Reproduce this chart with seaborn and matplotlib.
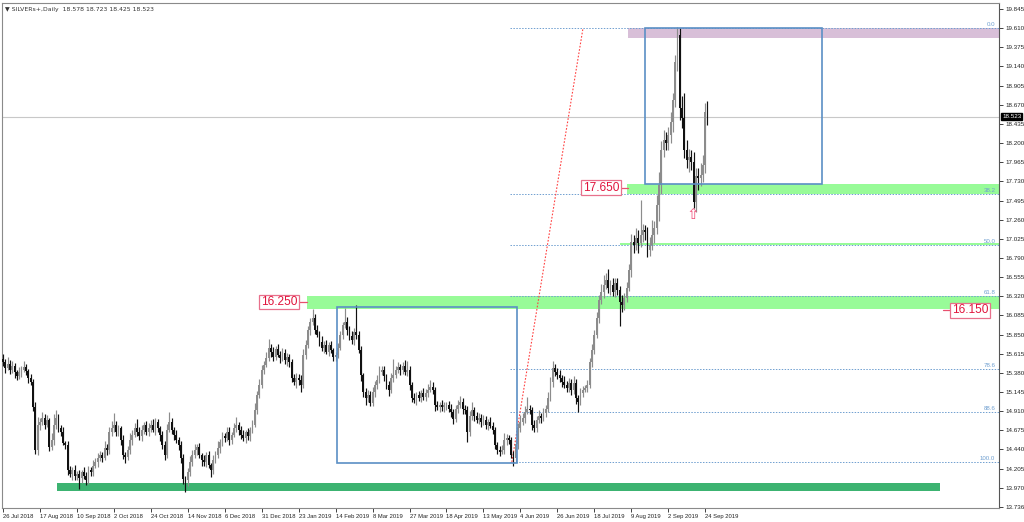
import numpy as np
import pandas as pd
import matplotlib
matplotlib.use('Agg')
import matplotlib.pyplot as plt
import matplotlib.transforms as mtransforms
from matplotlib.patches import Rectangle
import seaborn as sns

sns.set_theme(style='white')
plt.rcParams['font.family'] = ['Liberation Sans', 'DejaVu Sans']

# ---------------- data ----------------
symbol_title = 'SILVERs+,Daily  18.578 18.723 18.425 18.523'
first_open = 15.55

# daily closes, one row per 16 bars (one date label each)
closes = [
    15.51, 15.44, 15.49, 15.42, 15.46, 15.39, 15.34, 15.39, 15.42, 15.45, 15.40, 15.32, 15.27, 14.96, 14.43, 14.74,
    14.78, 14.83, 14.74, 14.80, 14.47, 14.56, 14.74, 14.83, 14.70, 14.66, 14.52, 14.50, 14.19, 14.14, 14.19, 14.12,
    14.14, 14.09, 14.16, 14.12, 14.07, 14.19, 14.16, 14.24, 14.29, 14.34, 14.37, 14.34, 14.46, 14.43, 14.66, 14.70,
    14.74, 14.66, 14.70, 14.56, 14.37, 14.35, 14.43, 14.56, 14.62, 14.70, 14.66, 14.60, 14.68, 14.74, 14.66, 14.70,
    14.74, 14.68, 14.78, 14.70, 14.62, 14.50, 14.37, 14.68, 14.78, 14.68, 14.62, 14.56, 14.50, 14.33, 14.08, 14.07,
    14.16, 14.29, 14.37, 14.43, 14.47, 14.37, 14.31, 14.29, 14.37, 14.25, 14.19, 14.31, 14.37, 14.46, 14.53, 14.60,
    14.58, 14.66, 14.56, 14.62, 14.70, 14.74, 14.68, 14.62, 14.58, 14.65, 14.60, 14.68, 14.74, 14.93, 15.11, 15.23,
    15.42, 15.48, 15.56, 15.69, 15.64, 15.58, 15.67, 15.60, 15.56, 15.63, 15.54, 15.58, 15.51, 15.32, 15.27, 15.32,
    15.29, 15.23, 15.60, 15.72, 15.91, 16.01, 16.05, 15.91, 15.85, 15.76, 15.69, 15.72, 15.64, 15.72, 15.66, 15.58,
    15.60, 15.69, 15.85, 15.97, 16.01, 15.91, 15.83, 15.78, 15.88, 15.85, 15.66, 15.35, 15.15, 15.07, 15.11, 15.01,
    15.15, 15.23, 15.29, 15.39, 15.42, 15.34, 15.23, 15.17, 15.32, 15.35, 15.42, 15.45, 15.42, 15.46, 15.39, 15.42,
    15.23, 15.07, 15.05, 15.11, 15.07, 15.13, 15.09, 15.13, 15.17, 15.21, 15.17, 14.98, 14.96, 14.99, 14.96, 14.98,
    14.98, 14.94, 14.90, 14.82, 14.94, 14.98, 15.02, 14.94, 14.92, 14.65, 14.85, 14.92, 14.85, 14.80, 14.83, 14.78,
    14.80, 14.74, 14.78, 14.73, 14.68, 14.50, 14.43, 14.41, 14.43, 14.56, 14.58, 14.56, 14.37, 14.34, 14.51, 14.70,
    14.78, 14.83, 14.90, 14.94, 14.92, 14.74, 14.70, 14.80, 14.85, 14.83, 14.89, 14.94, 15.07, 15.27, 15.44, 15.39,
    15.35, 15.32, 15.27, 15.23, 15.19, 15.26, 15.17, 15.26, 15.07, 15.02, 15.13, 15.17, 15.19, 15.23, 15.51, 15.66,
    15.85, 16.05, 16.27, 16.37, 16.46, 16.52, 16.42, 16.46, 16.37, 16.48, 16.40, 16.25, 16.21, 16.30, 16.42, 16.64,
    16.99, 16.95, 17.04, 16.97, 17.07, 17.13, 17.11, 16.89, 16.95, 17.07, 17.16, 17.44, 17.69, 18.12, 18.24, 18.20,
    18.30, 18.46, 18.73, 19.19, 19.53, 18.63, 18.51, 18.12, 17.99, 18.03, 17.97, 17.48, 17.80, 17.77, 17.81, 17.93,
    18.578, 18.523,
]

# wick lengths above / below the body, in hundredths
wick_up = [
    6, 4, 8, 5, 7, 4, 3, 6, 5, 8, 4, 3, 5, 4, 6, 10,
    5, 7, 4, 6, 3, 8, 13, 9, 5, 4, 6, 3, 4, 5, 3, 6,
    4, 5, 3, 6, 4, 5, 3, 7, 4, 6, 5, 4, 8, 5, 6, 9,
    15, 5, 4, 3, 6, 4, 5, 8, 6, 7, 12, 5, 6, 4, 5, 7,
    6, 8, 5, 4, 3, 5, 4, 7, 12, 5, 4, 6, 3, 4, 5, 3,
    5, 7, 6, 8, 4, 5, 3, 6, 4, 5, 3, 6, 5, 8, 4, 6,
    4, 6, 5, 3, 7, 10, 4, 5, 6, 3, 5, 4, 6, 8, 5, 7,
    6, 5, 8, 11, 5, 6, 4, 7, 5, 6, 4, 5, 3, 4, 5, 6,
    5, 6, 7, 6, 5, 4, 12, 5, 6, 4, 7, 5, 6, 4, 5, 3,
    4, 6, 5, 4, 17, 5, 4, 6, 5, 33, 4, 5, 3, 4, 6, 5,
    6, 5, 7, 8, 5, 4, 3, 5, 6, 20, 5, 6, 4, 5, 8, 10,
    5, 4, 6, 3, 5, 4, 6, 5, 7, 8, 6, 4, 5, 3, 6, 4,
    4, 5, 6, 4, 5, 7, 8, 5, 4, 5, 6, 10, 4, 5, 6, 4,
    6, 5, 4, 6, 5, 4, 3, 5, 6, 8, 5, 4, 3, 5, 6, 7,
    8, 6, 7, 15, 5, 4, 6, 5, 7, 4, 6, 5, 8, 6, 9, 5,
    5, 6, 4, 7, 5, 6, 4, 8, 5, 4, 6, 5, 4, 6, 5, 7,
    6, 8, 7, 10, 12, 8, 14, 6, 9, 7, 6, 5, 8, 6, 7, 8,
    10, 8, 12, 9, 43, 8, 7, 6, 10, 18, 8, 12, 15, 10, 12, 9,
    10, 12, 8, 9, 9, 8, 15, 30, 12, 10, 8, 12, 10, 9, 15, 12,
    12, 14,
]
wick_dn = [
    4, 6, 3, 5, 4, 7, 5, 4, 6, 3, 5, 6, 4, 5, 4, 6,
    6, 4, 5, 3, 5, 4, 6, 5, 4, 6, 3, 5, 6, 4, 7, 5,
    5, 13, 6, 4, 7, 5, 4, 5, 3, 6, 4, 5, 3, 6, 4, 5,
    4, 6, 5, 7, 5, 8, 4, 5, 6, 3, 5, 4, 6, 5, 4, 5,
    5, 3, 6, 4, 7, 5, 6, 4, 3, 5, 6, 4, 7, 5, 6, 15,
    8, 4, 5, 3, 6, 4, 7, 5, 6, 4, 9, 5, 3, 4, 6, 5,
    5, 4, 6, 5, 3, 4, 6, 5, 3, 6, 4, 5, 4, 3, 5, 4,
    4, 5, 3, 4, 6, 5, 4, 3, 6, 4, 5, 7, 6, 5, 4, 8,
    6, 8, 4, 5, 3, 6, 4, 5, 3, 5, 4, 6, 3, 5, 4, 6,
    5, 4, 3, 5, 4, 6, 5, 4, 6, 5, 4, 7, 6, 8, 5, 4,
    4, 6, 5, 3, 4, 6, 5, 7, 4, 5, 3, 4, 6, 5, 4, 5,
    6, 5, 4, 6, 3, 5, 4, 6, 5, 3, 5, 7, 4, 6, 5, 6,
    5, 4, 6, 7, 4, 5, 3, 6, 5, 12, 4, 5, 6, 4, 5, 6,
    4, 5, 6, 3, 5, 6, 4, 5, 3, 4, 6, 5, 4, 10, 5, 6,
    5, 4, 6, 3, 5, 6, 4, 5, 3, 6, 4, 5, 4, 3, 6, 5,
    4, 5, 6, 3, 5, 4, 6, 5, 7, 12, 4, 5, 3, 5, 4, 6,
    5, 4, 6, 5, 7, 5, 6, 8, 5, 6, 7, 30, 8, 6, 5, 4,
    8, 10, 6, 12, 5, 8, 10, 9, 7, 6, 10, 8, 20, 12, 9, 8,
    8, 10, 12, 9, 10, 15, 12, 10, 9, 14, 10, 8, 12, 15, 10, 9,
    10, 10,
]

date_labels = ['26 Jul 2018', '17 Aug 2018', '10 Sep 2018', '2 Oct 2018', '24 Oct 2018',
               '14 Nov 2018', '6 Dec 2018', '31 Dec 2018', '23 Jan 2019', '14 Feb 2019',
               '8 Mar 2019', '27 Mar 2019', '18 Apr 2019', '13 May 2019', '4 Jun 2019',
               '26 Jun 2019', '18 Jul 2019', '9 Aug 2019', '2 Sep 2019', '24 Sep 2019']
date_bars = [0, 16, 32, 48, 64, 80, 96, 112, 128, 144, 160, 176, 192, 208, 224,
             240, 256, 272, 288, 304]

price_ticks = [19.845, 19.610, 19.375, 19.140, 18.905, 18.670, 18.435, 18.200, 17.965,
               17.730, 17.495, 17.260, 17.025, 16.790, 16.555, 16.320, 16.085, 15.850,
               15.615, 15.380, 15.145, 14.910, 14.675, 14.440, 14.205, 13.970, 13.735]
price_tick_labels = ['19.845', '19.610', '19.375', '19.140', '18.905', '18.670', '18.435',
                     '18.200', '17.965', '17.730', '17.495', '17.260', '17.025', '16.790',
                     '16.555', '16.320', '16.085', '15.850', '15.615', '15.380', '15.145',
                     '14.910', '14.675', '14.440', '14.205', '13.970', '13.736']

last_price = 18.523
fib_levels = [19.610, 17.577, 16.950, 16.320, 15.426, 14.894, 14.287]
fib_labels = ['0.0', '38.2', '50.0', '61.8', '78.6', '88.6', '100.0']
fib_start = 219.5
fib_trend = ([220.3, 251.1], [14.287, 19.610])

# zones: (x0 bar, x1 bar, low price, high price)
support_zone = (23.4, 405.6, 13.931, 14.029)
green_zones = [(131.6, None, 16.164, 16.324), (270.0, None, 17.575, 17.700),
               (267.0, None, 16.945, 16.975)]
top_zone = (270.6, None, 19.490, 19.610)
boxes = [(144.6, 222.5, 14.275, 16.188), (277.9, 354.5, 17.700, 19.610)]

# price callouts: (text, centre bar, price, line start bar, line end bar)
callouts = [('16.250', 119.5, 16.250, 128.1, 131.6),
            ('17.650', 258.9, 17.650, 267.1, 270.6),
            ('16.150', 418.6, 16.150, 406.9, 410.4)]
arrow_pos = (298.7, 17.32)

# ---------------- build candles ----------------
df = pd.DataFrame({'close': closes})
df['open'] = df['close'].shift(1).fillna(first_open)
df['high'] = df[['open', 'close']].max(axis=1) + np.array(wick_up) / 100
df['low'] = df[['open', 'close']].min(axis=1) - np.array(wick_dn) / 100
df['up'] = df['close'] >= df['open']

XMIN, XMAX = -0.43, 431.2
YMIN, YMAX = 13.722, 19.919

fig = plt.figure(figsize=(10.24, 5.22), dpi=100)
fig.patch.set_facecolor('white')
ax = fig.add_axes([2 / 1024, 14 / 522, 997 / 1024, 505 / 522])
ax.set_xlim(XMIN, XMAX)
ax.set_ylim(YMIN, YMAX)

# zones behind candles
x0, x1, lo, hi = support_zone
ax.add_patch(Rectangle((x0, lo), x1 - x0, hi - lo, color='#3cb371', lw=0, zorder=1))
for x0, x1, lo, hi in green_zones:
    x1 = XMAX if x1 is None else x1
    ax.add_patch(Rectangle((x0, lo), x1 - x0, hi - lo, color='#98fb98', lw=0, zorder=1))
x0, x1, lo, hi = top_zone
ax.add_patch(Rectangle((x0, lo), XMAX - x0, hi - lo, color='#d8bfd8', lw=0, zorder=1))

# fibonacci levels
ax.hlines(fib_levels, fib_start, XMAX, colors='#6f9fd0', linestyles=(0, (1.5, 1.5)),
          lw=0.7, zorder=2)
for lvl, lab in zip(fib_levels, fib_labels):
    ax.text(429.6, lvl + 0.015, lab, fontsize=4.4, color='#6f9fd0', ha='right', va='bottom',
            zorder=3)
ax.plot(fib_trend[0], fib_trend[1], color='#ff4040', ls=(0, (1.5, 1.5)), lw=0.8, zorder=2)

# current price line
ax.axhline(last_price, color='#c8c8c8', lw=0.8, zorder=1.5)

# candles
colors = np.where(df['up'], '#8c8c8c', '#111111')
ax.vlines(df.index, df['low'], df['high'], colors=colors, lw=0.85, zorder=4)
body_lo = df[['open', 'close']].min(axis=1)
body_h = (df['close'] - df['open']).abs().clip(lower=0.012)
ax.bar(df.index, body_h, bottom=body_lo, width=0.8, color=colors, lw=0, zorder=5)

# analysis boxes
for x0, x1, lo, hi in boxes:
    ax.add_patch(Rectangle((x0, lo), x1 - x0, hi - lo, fill=False, ec='#5b8fc5', lw=1.2,
                           zorder=6))

# price callouts
for txt, xc, p, l0, l1 in callouts:
    ax.plot([l0, l1], [p, p], color='#e8506e', lw=0.9, zorder=7)
    ax.text(xc, p, txt, fontsize=8.6, color='#e0143c', ha='center', va='center', zorder=8,
            bbox=dict(boxstyle='square,pad=0.12', fc='white', ec='#e8708c', lw=0.9))

ax.text(arrow_pos[0], arrow_pos[1], '\u21e7', fontsize=11, color='#f0507a', ha='center',
        va='center', family=['DejaVu Sans'], zorder=8)

# axes styling
ax.yaxis.tick_right()
ax.set_yticks(price_ticks)
ax.set_yticklabels(price_tick_labels)
ax.set_xticks(date_bars)
ax.set_xticklabels(date_labels, ha='left')
ax.tick_params(axis='y', right=True, left=False, direction='out', length=3, width=0.6,
               pad=2, labelsize=4.5, colors='#222222')
ax.tick_params(axis='x', bottom=True, direction='out', length=3, width=0.6, pad=1.5,
               labelsize=4.2, colors='#222222')
for name, sp in ax.spines.items():
    sp.set_visible(True)
    sp.set_color('#8a8a8a')
    sp.set_linewidth(0.8)
ax.spines['right'].set_color('#555555')
ax.grid(False)

blend = mtransforms.blended_transform_factory(ax.transAxes, ax.transData)
ax.text(1.003, last_price, f'{last_price:.3f}', transform=blend, fontsize=4.5, color='white',
        ha='left', va='center', zorder=9, clip_on=False,
        bbox=dict(boxstyle='square,pad=0.15', fc='black', ec='black'))

ax.text(0.003, 0.993, '\u25bc ' + symbol_title, transform=ax.transAxes, fontsize=4.4,
        color='#333333', ha='left', va='top', family=['DejaVu Sans'])

fig.savefig('out.png', dpi=100)
